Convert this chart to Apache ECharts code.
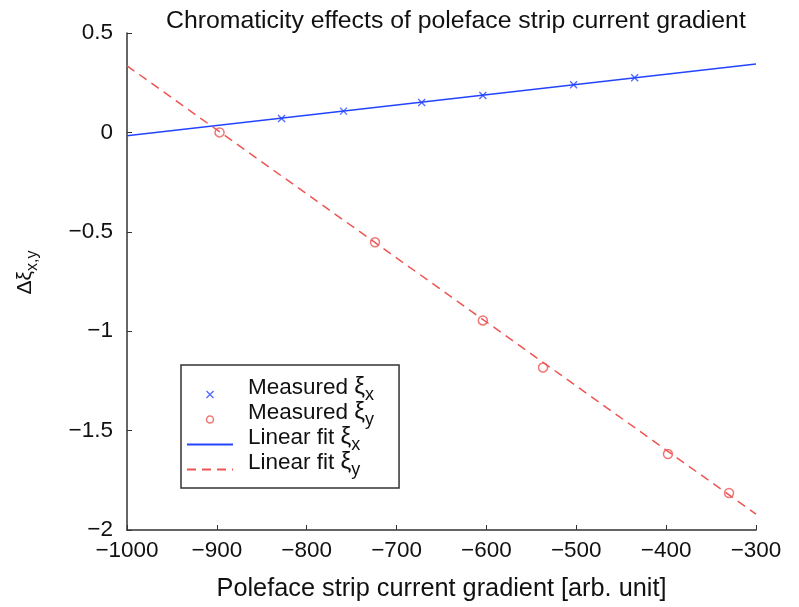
<!DOCTYPE html>
<html>
<head>
<meta charset="utf-8">
<script src="https://cdn.jsdelivr.net/npm/echarts@6/dist/echarts.min.js"></script>
<style>html,body{margin:0;padding:0;background:#fff}#c{width:799px;height:607px}</style>
</head>
<body>
<div id="c"></div>
<script>
// ---- data ----
const titleText = 'Chromaticity effects of poleface strip current gradient';
const xAxisName = 'Poleface strip current gradient [arb. unit]';
const measXx = [-828, -759, -672, -604, -503, -435];
const measXy = [0.07, 0.107, 0.15, 0.186, 0.24, 0.275];
const measYx = [-897, -724, -604, -537, -398, -330];
const measYy = [0.0, -0.553, -0.946, -1.183, -1.618, -1.814];
const fitX = [-1000, -300];
const fitXy = [-0.017, 0.344];
const fitYy = [0.335, -1.92];
const xTicks = {min: -1000, max: -300, interval: 100};
const yTicks = {min: -2, max: 0.5, interval: 0.5};
const seriesNames = ['Measured ξx', 'Measured ξy', 'Linear fit ξx', 'Linear fit ξy'];
const legendLabels = {
  'Measured ξx': '{m|Measured }{g|ξ}{s|x}',
  'Measured ξy': '{m|Measured }{g|ξ}{s|y}',
  'Linear fit ξx': '{m|Linear fit }{g|ξ}{s|x}',
  'Linear fit ξy': '{m|Linear fit }{g|ξ}{s|y}'
};

const BLUE = '#2244ff';
const RED = '#ee5552';
const FONT = 'Liberation Sans, Arial, sans-serif';
const zip = (a, b) => a.map((v, i) => [v, b[i]]);
const minus = v => String(v).replace('-', '\u2212');
const hidden = {color: 'rgba(0,0,0,0)', borderColor: 'rgba(0,0,0,0)', borderWidth: 0};

const chart = echarts.init(document.getElementById('c'), null, {renderer: 'canvas'});
chart.setOption({
  animation: false,
  backgroundColor: '#fff',
  textStyle: {fontFamily: FONT, color: '#000'},
  title: {
    text: titleText, left: 161, top: 4,
    textStyle: {fontFamily: FONT, fontSize: 24.8, fontWeight: 'normal', color: '#111'}
  },
  grid: {left: 127, right: 43, top: 33, bottom: 76, containLabel: false},
  xAxis: {
    type: 'value', min: xTicks.min, max: xTicks.max, interval: xTicks.interval,
    name: xAxisName, nameLocation: 'middle', nameGap: 47,
    nameTextStyle: {fontFamily: FONT, fontSize: 25.3, color: '#111'},
    axisLine: {show: true, onZero: false, lineStyle: {color: '#333', width: 1.5}},
    axisTick: {show: true, inside: true, length: 5, lineStyle: {color: '#333', width: 1}},
    axisLabel: {fontFamily: FONT, fontSize: 22.5, color: '#111', margin: 9, formatter: minus},
    splitLine: {show: false}
  },
  yAxis: {
    type: 'value', min: yTicks.min, max: yTicks.max, interval: yTicks.interval,
    name: '{m|Δξ}{s|x,y}', nameLocation: 'middle', nameGap: 86,
    nameTextStyle: {
      fontFamily: FONT, color: '#111', padding: [0, 0, 0, 18],
      rich: {
        m: {fontFamily: FONT, fontSize: 21, color: '#111', verticalAlign: 'bottom', padding: [0, 0, 5, 0]},
        s: {fontFamily: FONT, fontSize: 16, color: '#111', verticalAlign: 'bottom'}
      }
    },
    axisLine: {show: true, onZero: false, lineStyle: {color: '#333', width: 1.5}},
    axisTick: {show: true, inside: true, length: 5, lineStyle: {color: '#333', width: 1}},
    axisLabel: {fontFamily: FONT, fontSize: 22.5, color: '#111', margin: 14, formatter: minus},
    splitLine: {show: false}
  },
  legend: {
    orient: 'vertical', left: 181, top: 365,
    padding: [10, 25, 9, 5],
    itemGap: -4, itemWidth: 46, itemHeight: 7,
    borderColor: '#333', borderWidth: 1.5,
    backgroundColor: '#fff',
    data: [
      {name: seriesNames[0], itemStyle: {color: BLUE, borderColor: BLUE, borderWidth: 1.3}},
      {name: seriesNames[1], itemStyle: {color: 'rgba(0,0,0,0)', borderColor: RED, borderWidth: 1.5}},
      {name: seriesNames[2], itemStyle: hidden},
      {name: seriesNames[3], itemStyle: hidden}
    ],
    formatter: n => legendLabels[n],
    textStyle: {
      fontFamily: FONT, color: '#111', padding: [0, 0, 0, 10],
      rich: {
        m: {fontFamily: FONT, fontSize: 22.5, color: '#111', verticalAlign: 'bottom', padding: [0, 0, 5, 0], lineHeight: 19},
        g: {fontFamily: FONT, fontSize: 24, color: '#111', verticalAlign: 'bottom', padding: [0, 0, 5, 0], lineHeight: 19},
        s: {fontFamily: FONT, fontSize: 18, color: '#111', verticalAlign: 'bottom', lineHeight: 17}
      }
    }
  },
  series: [
    {
      name: seriesNames[0], type: 'scatter', data: zip(measXx, measXy), z: 5,
      symbol: 'path://M0,0L10,10M10,0L0,10', symbolSize: 7,
      itemStyle: {color: BLUE, borderColor: BLUE, borderWidth: 1.3}
    },
    {
      name: seriesNames[1], type: 'scatter', data: zip(measYx, measYy), z: 5,
      symbol: 'circle', symbolSize: 9,
      itemStyle: {color: 'rgba(0,0,0,0)', borderColor: RED, borderWidth: 1.5}
    },
    {
      name: seriesNames[2], type: 'line', data: zip(fitX, fitXy), symbol: 'none', showSymbol: false,
      itemStyle: {color: BLUE},
      lineStyle: {color: BLUE, width: 1.5, type: 'solid'}
    },
    {
      name: seriesNames[3], type: 'line', data: zip(fitX, fitYy), symbol: 'none', showSymbol: false,
      itemStyle: {color: RED},
      lineStyle: {color: RED, width: 1.5, type: [9, 6]}
    }
  ]
});
</script>
</body>
</html>
